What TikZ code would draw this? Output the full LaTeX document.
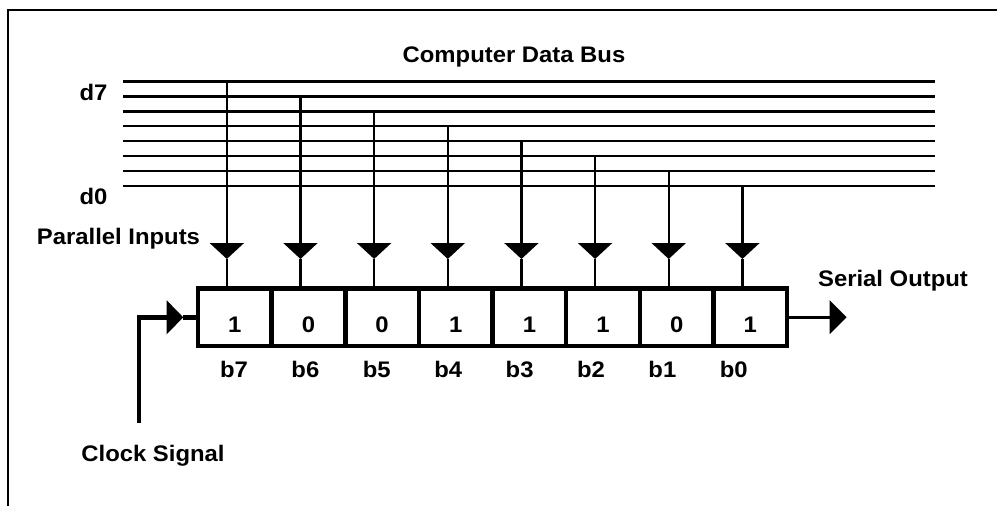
\documentclass[tikz,border=0pt]{standalone}
\usepackage{fontspec}
\setmainfont{Liberation Sans}[FakeStretch=1.06]
\usetikzlibrary{arrows.meta}

\tikzset{
  every node/.style={font=\bfseries\fontsize{22.5}{25}\selectfont, inner sep=0pt},
  bus line/.style={line width=2.4pt},
  tap/.style={line width=2.4pt},
  inhead/.style={-{Triangle[width=34pt,length=16pt]}},
  cell/.style={draw, line width=4.4pt, minimum width=73.65pt, minimum height=57.3pt},
  clk line/.style={line width=4.4pt},
  out line/.style={line width=3.4pt}
}

\begin{document}
\begin{tikzpicture}[x=1pt,y=-1pt]
\useasboundingbox (0,0) rectangle (997,506);

% frame
\draw[line width=2.6pt] (8,506) -- (8,10) -- (997,10);

\node (bus) at (514,57) {Computer Data Bus};

% the eight bus lines, d0 at the bottom
\foreach \i in {0,...,7}
  \draw[bus line] (123,185.7-14.86*\i) coordinate (dl\i) -- (935,185.7-14.86*\i) coordinate (dr\i);

\node (d7) at (93.5,92) {d7};
\node (d0) at (93.5,196) {d0};
\node (par) at (118.5,238.5) {Parallel Inputs};

% shift register cells with their taps and labels
\foreach \v [count=\k from 0] in {1,0,0,1,1,1,0,1} {
  \pgfmathtruncatemacro\b{7-\k}
  \pgfmathsetmacro\cx{198+73.65*(\k+0.5)}
  \node[cell] (c\b) at (\cx,317.3) {};
  \node (v\b) at (\cx,324.5) {\v};
  \coordinate (tp\b) at (\cx-8,259);
  \draw[tap,inhead] (dl\b -| tp\b) -- (tp\b);
  \draw[tap] (tp\b) -- (tp\b |- c\b.north);
  \node (lb\b) at (234+71.4*\k,369) {b\b};
}

% serial output
\coordinate (so) at (846.7,317.3);
\draw[out line,-{Triangle[width=33pt,length=17pt]}] (c0.east) -- (so);
\node (ser) at (893,281) {Serial Output};

% clock input
\coordinate (clk) at (139,423);
\coordinate (ct) at (183.3,317.3);
\draw[clk line,-{Triangle[width=33pt,length=16.6pt]}] (clk) |- (ct);
\draw[clk line] (ct) -- (c7.west);
\node (clock) at (153,456) {Clock Signal};

\end{tikzpicture}
\end{document}
